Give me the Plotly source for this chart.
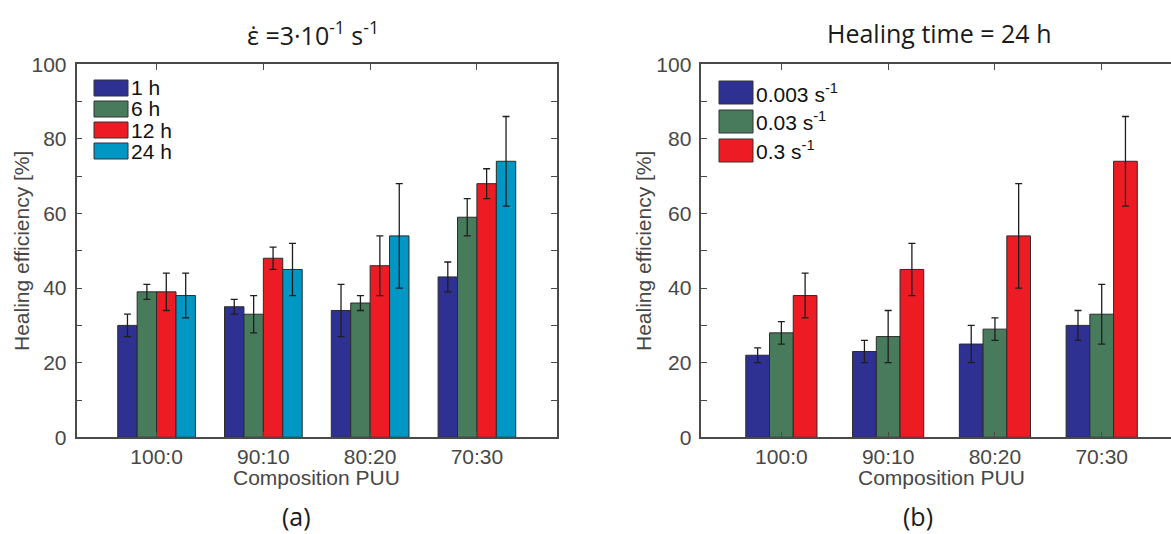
import plotly.graph_objects as go

# ---- data -----------------------------------------------------------------
compositions = ["100:0", "90:10", "80:20", "70:30"]

# (a) healing efficiency vs. healing time at strain rate 3e-1 s^-1
time_labels = ["1 h", "6 h", "12 h", "24 h"]
eff_1h = [30, 35, 34, 43]
eff_6h = [39, 33, 36, 59]
eff_12h = [39, 48, 46, 68]
eff_24h = [38, 45, 54, 74]
err_1h = [3, 2, 7, 4]
err_6h = [2, 5, 2, 5]
err_12h = [5, 3, 8, 4]
err_24h = [6, 7, 14, 12]

# (b) healing efficiency vs. strain rate after 24 h healing
rate_labels = ["0.003 s<sup>-1</sup>", "0.03 s<sup>-1</sup>", "0.3 s<sup>-1</sup>"]
eff_r003 = [22, 23, 25, 30]
eff_r03 = [28, 27, 29, 33]
eff_r3 = [38, 45, 54, 74]
err_r003 = [2, 3, 5, 4]
err_r03 = [3, 7, 3, 8]
err_r3 = [6, 7, 14, 12]

y_ticks = [0, 20, 40, 60, 80, 100]

# ---- styling ----------------------------------------------------------------
W, H = 1171, 534
C_BLUE, C_GREEN, C_RED, C_CYAN = "#2e3192", "#487a5c", "#ed1c24", "#0097c4"
SANS = "Liberation Sans, Arial, sans-serif"
TICK_FONT = dict(family=SANS, size=21, color="#474747")
LABEL_FONT = dict(family=SANS, size=21, color="#474747")
LEGEND_FONT = dict(family=SANS, size=21, color="#111111")
TITLE_FONT = dict(family="Open Sans, sans-serif", size=25, color="#1a1a1a")
AXIS_LINE = "#4a4a4a"


def px_x(x):
    return x / W


def px_y(y):
    return 1 - y / H


x_pos = list(range(1, len(compositions) + 1))

fig = go.Figure()


def add_group(series, errors, colors, xa, ya):
    n = len(series)
    group = n / (n + 1.5)
    w = group / n
    for i, (vals, errs, col) in enumerate(zip(series, errors, colors)):
        fig.add_trace(go.Bar(
            x=x_pos, y=vals, width=w, offset=-group / 2 + i * w,
            marker=dict(color=col, line=dict(color="#2b2b2b", width=1)),
            error_y=dict(type="data", array=errs, visible=True,
                         color="#1e1e1e", thickness=1.3, width=3.5),
            xaxis=xa, yaxis=ya, showlegend=False,
        ))


add_group([eff_1h, eff_6h, eff_12h, eff_24h],
          [err_1h, err_6h, err_12h, err_24h],
          [C_BLUE, C_GREEN, C_RED, C_CYAN], "x", "y")
add_group([eff_r003, eff_r03, eff_r3],
          [err_r003, err_r03, err_r3],
          [C_BLUE, C_GREEN, C_RED], "x2", "y2")

unit = 4.5 / (557 - 76.5)          # axis units per pixel
right_end = 0.25 + (W - 701.3) * unit

common_x = dict(tickvals=x_pos, ticktext=compositions, ticks="inside", ticklen=6,
                tickcolor=AXIS_LINE, showline=True, linecolor=AXIS_LINE, linewidth=1.5,
                showgrid=False, zeroline=False, tickfont=TICK_FONT, automargin=False,
                ticklabelstandoff=0)
common_y = dict(range=[0, 100], tickvals=y_ticks, ticks="inside", ticklen=6,
                tickcolor=AXIS_LINE, showline=True, linecolor=AXIS_LINE, linewidth=1.5,
                showgrid=False, zeroline=False, tickfont=TICK_FONT, ticklabelstandoff=4,
                automargin=False,
                minor=dict(dtick=10, tick0=0, ticks="inside", ticklen=6, tickcolor=AXIS_LINE,
                           showgrid=False))

fig.update_layout(
    width=W, height=H,
    margin=dict(l=0, r=0, t=0, b=0, pad=0),
    paper_bgcolor="white", plot_bgcolor="white",
    barmode="overlay",
    xaxis=dict(domain=[px_x(76.5), px_x(557)], range=[0.25, 4.75], anchor="y",
               mirror="ticks", **common_x),
    yaxis=dict(domain=[px_y(437.3), px_y(64.3)], anchor="x", mirror="ticks", **common_y),
    xaxis2=dict(domain=[px_x(701.3), 1.0], range=[0.25, right_end], anchor="y2",
                mirror="ticks", **common_x),
    yaxis2=dict(domain=[px_y(437.3), px_y(64.3)], anchor="x2", mirror=False, **common_y),
)

annotations = []


def text(x, y, s, font, xanchor="center", **kw):
    annotations.append(dict(x=px_x(x), y=px_y(y), xref="paper", yref="paper", text=s,
                            showarrow=False, font=font, xanchor=xanchor, yanchor="middle",
                            **kw))


# panel titles and captions
text(313, 33, "\u03b5\u0307 =3\u00b710<sup>-1</sup> s<sup>-1</sup>", TITLE_FONT)
text(939, 33, "Healing time = 24 h", TITLE_FONT)
text(296, 516, "(a)", TITLE_FONT)
text(918, 516, "(b)", TITLE_FONT)

# axis titles
text(22, 251, "Healing efficiency [%]", LABEL_FONT, textangle=-90)
text(644, 251, "Healing efficiency [%]", LABEL_FONT, textangle=-90)
text(316.7, 477, "Composition PUU", LABEL_FONT)
text(941.5, 477, "Composition PUU", LABEL_FONT)

# legends drawn as boxes with labels
shapes = []


def legend(x0, x1, tops, h, labels, colors):
    for top, lab, col in zip(tops, labels, colors):
        shapes.append(dict(type="rect", xref="paper", yref="paper",
                           x0=px_x(x0), x1=px_x(x1), y0=px_y(top + h), y1=px_y(top),
                           fillcolor=col, line=dict(color="#333333", width=1)))
        text(x1 + 1, top + h / 2, lab, LEGEND_FONT, xanchor="left")


legend(94, 128, [80, 101, 122, 143], 16, time_labels, [C_BLUE, C_GREEN, C_RED, C_CYAN])
legend(719, 753, [81, 110, 139], 23, rate_labels, [C_BLUE, C_GREEN, C_RED])

fig.update_layout(annotations=annotations, shapes=shapes)

fig.write_html("out.html")
